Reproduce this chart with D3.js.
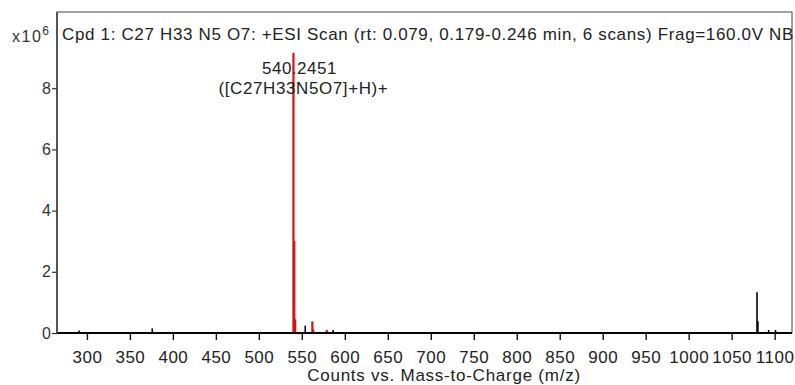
<!DOCTYPE html>
<html>
<head>
<meta charset="utf-8">
<script src="https://cdn.jsdelivr.net/npm/d3@7"></script>
<style>
  body { margin: 0; background: #fff; }
  svg { display: block; font-family: "Liberation Sans", Arial, sans-serif; }
</style>
</head>
<body>
<div id="chart"></div>
<script>
// m/z and intensity (x10^6) of the compound peaks (red)
const cpdMz = [540.245, 541.248, 542.25, 562.227, 563.23, 579.0];
const cpdCounts = [9.15, 3.0, 0.45, 0.38, 0.12, 0.1];
// other peaks (black)
const otherMz = [291, 376, 554, 586.5, 1079.5, 1080.5, 1093, 1101];
const otherCounts = [0.08, 0.15, 0.24, 0.1, 1.33, 0.38, 0.1, 0.1];
const xTicks = [300, 350, 400, 450, 500, 550, 600, 650, 700, 750, 800, 850, 900, 950, 1000, 1050, 1100];
const yTicks = [0, 2, 4, 6, 8];
const title = "Cpd 1: C27 H33 N5 O7: +ESI Scan (rt: 0.079, 0.179-0.246 min, 6 scans) Frag=160.0V NB";
const peakLabel = ["540.2451", "([C27H33N5O7]+H)+"];

const w = 795, h = 385;
const padL = 57, padR = 792, padT = 12, padB = 333;

const svg = d3.select("#chart").append("svg")
  .attr("width", w)
  .attr("height", h);

const x = d3.scaleLinear().domain([265.2, 1120.2]).range([padL, padR]);
const y = d3.scaleLinear().domain([0, 10.49]).range([padB, padT]);

// frame
svg.append("rect")
  .attr("x", padL).attr("y", padT)
  .attr("width", padR - padL).attr("height", padB - padT)
  .attr("fill", "none").attr("stroke", "#444").attr("stroke-width", 1);

// peaks
svg.selectAll("line.other")
  .data(otherMz)
  .enter()
  .append("line")
  .attr("class", "other")
  .attr("x1", d => x(d)).attr("x2", d => x(d))
  .attr("y1", y(0))
  .attr("y2", (d, i) => y(otherCounts[i]))
  .attr("stroke", "#000")
  .attr("stroke-width", 1.6);

svg.selectAll("line.cpd")
  .data(cpdMz)
  .enter()
  .append("line")
  .attr("class", "cpd")
  .attr("x1", d => x(d)).attr("x2", d => x(d))
  .attr("y1", y(0))
  .attr("y2", (d, i) => y(cpdCounts[i]))
  .attr("stroke", "#d41414")
  .attr("stroke-width", 2.2);

// x axis
const xAxis = svg.append("g")
  .attr("transform", `translate(0,${padB})`)
  .call(d3.axisBottom(x).tickValues(xTicks).tickFormat(d3.format("d")).tickSize(7).tickPadding(11));
xAxis.select(".domain").attr("stroke", "#000").attr("stroke-width", 2.2)
  .attr("d", `M${padL},0H${padR}`);
xAxis.selectAll(".tick line").attr("stroke", "#111").attr("stroke-width", 1.4);
xAxis.selectAll(".tick text")
  .attr("font-size", "17px").attr("fill", "#222")
  .attr("letter-spacing", "0.5px")
  .attr("font-family", "Liberation Sans, Arial, sans-serif");

// y axis
const yAxis = svg.append("g")
  .attr("transform", `translate(${padL},0)`)
  .call(d3.axisLeft(y).tickValues(yTicks).tickSize(5).tickPadding(1));
yAxis.select(".domain").attr("stroke", "#555").attr("stroke-width", 2)
  .attr("d", `M0,${padT}V${padB}`);
yAxis.selectAll(".tick line").attr("stroke", "#333").attr("stroke-width", 1.2);
yAxis.selectAll(".tick text")
  .attr("font-size", "16px").attr("fill", "#333")
  .attr("font-family", "Liberation Sans, Arial, sans-serif");

// exponent label
const ex = svg.append("text")
  .attr("x", 12).attr("y", 42)
  .attr("font-size", "16px").attr("fill", "#333")
  .attr("letter-spacing", "1.5px");
ex.append("tspan").text("x10");
ex.append("tspan").attr("font-size", "12px").attr("dy", -7).text("6");

// title
svg.append("text")
  .attr("x", 62).attr("y", 40)
  .attr("font-size", "17px").attr("fill", "#222")
  .attr("letter-spacing", "0.66px")
  .text(title);

// peak annotation
svg.append("text")
  .attr("x", x(cpdMz[0]) + 6).attr("y", 73.5)
  .attr("text-anchor", "middle")
  .attr("font-size", "17px").attr("fill", "#222")
  .attr("letter-spacing", "0.5px")
  .text(peakLabel[0]);
svg.append("text")
  .attr("x", x(cpdMz[0]) + 10).attr("y", 94)
  .attr("text-anchor", "middle")
  .attr("font-size", "17px").attr("fill", "#222")
  .attr("letter-spacing", "0.6px")
  .text(peakLabel[1]);

// axis title
svg.append("text")
  .attr("x", 444).attr("y", 381)
  .attr("text-anchor", "middle")
  .attr("font-size", "17px").attr("fill", "#222")
  .attr("letter-spacing", "0.75px")
  .text("Counts vs. Mass-to-Charge (m/z)");
</script>
</body>
</html>
